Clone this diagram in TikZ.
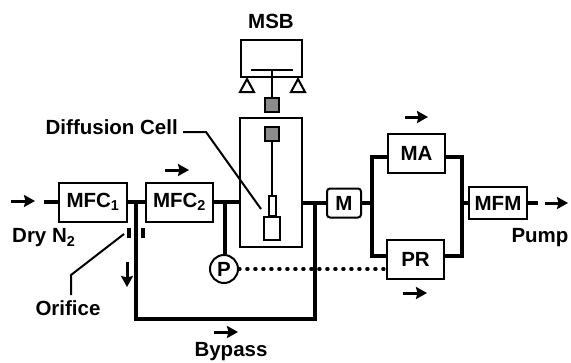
\documentclass[tikz,border=0pt]{standalone}
\usepackage{fontspec}
\setmainfont{Liberation Sans}
\usetikzlibrary{arrows.meta}
\tikzset{
  box/.style={draw=black,line width=2pt,fill=white,inner sep=0pt,font=\fontsize{20.5}{20.5}\selectfont\bfseries},
  label/.style={inner sep=0pt,font=\fontsize{20.5}{20.5}\selectfont\bfseries},
  pipe/.style={draw=black,line width=3.2pt},
  thin line/.style={draw=black,line width=2pt},
  flow/.style={draw=black,line width=3pt,-{Stealth[length=11pt,width=12pt,inset=1.5pt]}},
  gauge/.style={draw=black,line width=2.6pt,fill=black!45,minimum size=14pt,inner sep=0pt},
  part/.style={draw=black,line width=2pt,fill=white,inner sep=0pt}
}
\begin{document}
\begin{tikzpicture}[x=1pt,y=-1pt]
\useasboundingbox (0,0) rectangle (571,362);
% coordinates
\coordinate (j1) at (136,202);
\coordinate (j2) at (225,202);
\coordinate (j3) at (315,203);
\coordinate (bl) at (136,319);
\coordinate (br) at (315,319);
\coordinate (lt) at (372,157);
\coordinate (lb) at (372,256);
\coordinate (lm) at (372,203);
\coordinate (rt) at (462,157);
\coordinate (rb) at (462,256);
\coordinate (rm) at (462,203);
% nodes
\node[box,minimum width=68pt,minimum height=39pt] (mfc1) at (93,202) {MFC\textsubscript{1}};
\node[box,minimum width=67pt,minimum height=39pt] (mfc2) at (179.5,202) {MFC\textsubscript{2}};
\node[part,minimum width=62pt,minimum height=129pt] (cell) at (271,182.5) {};
\node[part,minimum width=61pt,minimum height=37pt] (msb) at (271.5,58.5) {};
\node[box,rounded corners=3pt,minimum width=34pt,minimum height=29pt] (m) at (344,203) {M};
\node[box,minimum width=57pt,minimum height=39pt] (ma) at (416.5,153.5) {MA};
\node[box,minimum width=57pt,minimum height=39pt] (pr) at (415.5,259.5) {PR};
\node[box,minimum width=58pt,minimum height=32pt] (mfm) at (498,203) {MFM};
\node[box,circle,minimum size=28pt] (p) at (224,269) {P};
\node[gauge] (s1) at (272,105) {};
\node[gauge] (s2) at (272,134) {};
\node[part,minimum width=7pt,minimum height=20pt] (tube) at (272,206) {};
\node[part,minimum width=16pt,minimum height=23pt] (sample) at (272,228) {};
\node[label] (tmsb) at (271,21) {MSB};
\node[label,anchor=east] (tdc) at (178,127) {Diffusion Cell};
\node[label,anchor=west] (tdry) at (12,238) {Dry N\textsubscript{2}};
\node[label] (tor) at (68,308) {Orifice};
\node[label] (tby) at (231,352) {Bypass};
\node[label] (tpu) at (540,238) {Pump};
% MSB inside
\coordinate (b1) at (251,70);
\coordinate (b2) at (293,70);
\coordinate (bm) at (272,70);
\draw[thin line] (b1) -- (b2);
\draw[thin line] (bm) -- (s1.north);
\draw[thin line,fill=white] (247,79) -- (254,92) -- (240,92) -- cycle;
\draw[thin line,fill=white] (298,79) -- (305,92) -- (291,92) -- cycle;
\draw[thin line] (s2.south) -- (tube.north);
% pipes
\draw[pipe] (mfc1.east) -- (mfc2.west);
\draw[pipe] (mfc2.east) -- (cell.west |- mfc2.east);
\draw[pipe] (j2) -- (p.north -| j2);
\draw[pipe] (j1) -- (bl) -- (br) -- (j3);
\draw[pipe] (cell.east |- m.west) -- (m.west);
\draw[pipe] (m.east) -- (lm);
\draw[pipe] (ma.west |- lt) -- (lt) -- (lb) -- (pr.west |- lb);
\draw[pipe] (ma.east |- rt) -- (rt) -- (rb) -- (pr.east |- rb);
\draw[pipe] (rm) -- (mfm.west);
% dotted
\coordinate (prd) at (387,269);
\draw[draw=black,line width=3.6pt,line cap=round,dash pattern=on 0.8pt off 7.2pt] (p.east) -- (prd);
% orifice marks
\coordinate (o1a) at (129,228); \coordinate (o1b) at (129,238);
\coordinate (o2a) at (143,228); \coordinate (o2b) at (143,238);
\draw[pipe] (o1a) -- (o1b);
\draw[pipe] (o2a) -- (o2b);
% leaders
\coordinate (ol1) at (124,234); \coordinate (ol2) at (71,275); \coordinate (ol3) at (71,295);
\draw[thin line] (ol1) -- (ol2) -- (ol3);
\coordinate (dl0) at (183,132); \coordinate (dl1) at (206,132); \coordinate (dl2) at (261,209);
\draw[thin line] (dl0) -- (dl1) -- (dl2);
% flow arrows
\coordinate (a1) at (11,201); \coordinate (a2) at (35,201);
\draw[flow] (a1) -- (a2);
\coordinate (st1) at (44,202);
\draw[pipe] (st1) -- (mfc1.west);
\coordinate (a3) at (165,170); \coordinate (a4) at (189,170);
\draw[flow] (a3) -- (a4);
\coordinate (a5) at (127,262); \coordinate (a6) at (127,287);
\draw[flow] (a5) -- (a6);
\coordinate (a7) at (214,332); \coordinate (a8) at (238,332);
\draw[flow] (a7) -- (a8);
\coordinate (a9) at (405,117); \coordinate (a10) at (428,117);
\draw[flow] (a9) -- (a10);
\coordinate (a11) at (403,293); \coordinate (a12) at (427,293);
\draw[flow] (a11) -- (a12);
\coordinate (st2) at (538,203);
\draw[pipe] (mfm.east) -- (st2);
\coordinate (a13) at (545,203); \coordinate (a14) at (568,203);
\draw[flow] (a13) -- (a14);
\end{tikzpicture}
\end{document}
